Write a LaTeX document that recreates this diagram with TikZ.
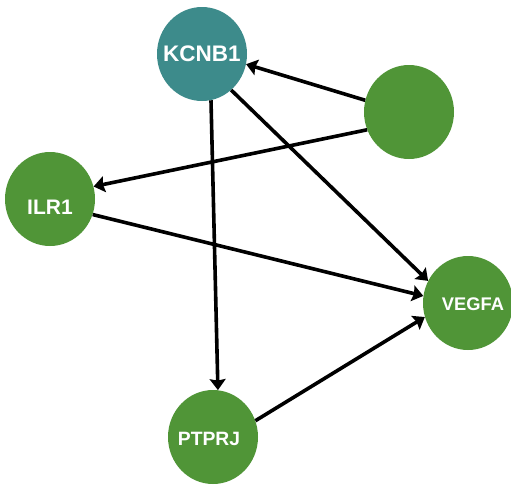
\documentclass[tikz,border=0pt]{standalone}
\usepackage{fontspec}
\setmainfont{Liberation Sans}
\usetikzlibrary{shapes.geometric,arrows.meta}
\definecolor{geneteal}{RGB}{61,139,139}
\definecolor{genegreen}{RGB}{80,149,55}
\tikzset{
  gene/.style={ellipse, minimum width=90pt, minimum height=94pt, inner sep=0pt, fill=genegreen, draw=none},
  hub/.style={gene, fill=geneteal},
  lbl/.style={text=white, font=\bfseries},
  edge/.style={line width=3.6pt, -{Stealth[length=11pt,width=16pt,inset=1.5pt]}},
}
\begin{document}
\begin{tikzpicture}[x=1pt,y=-1pt]
\useasboundingbox (0,0) rectangle (511,485);
% gene nodes
\node[hub]  (kcnb1) at (202,54)  {};
\node[gene] (src)   at (409,112) {};
\node[gene] (ilr1)  at (50,199)  {};
\node[gene] (vegfa) at (468,303) {};
\node[gene] (ptprj) at (213,437) {};
% labels
\node[lbl, font=\bfseries\fontsize{22.5}{24}\selectfont] (t1) at (kcnb1.center) {KCNB1};
\node[lbl, font=\bfseries\fontsize{21}{24}\selectfont]   (t2) at ([yshift=-8pt]ilr1.center) {ILR1};
\node[lbl, font=\bfseries\fontsize{18.3}{20}\selectfont] (t3) at ([xshift=5pt,yshift=-1pt]vegfa.center) {VEGFA};
\node[lbl, font=\bfseries\fontsize{19.3}{20}\selectfont] (t4) at ([xshift=-4pt,yshift=-2pt]ptprj.center) {PTPRJ};
% interactions
\draw[edge] (src.165.7)  -- (kcnb1.-13.7);
\draw[edge] (src.203.6)  -- (ilr1.16.5);
\draw[edge] (kcnb1.-51.9) -- (vegfa.151.9);
\draw[edge] (kcnb1.-79.6) -- (ptprj.84);
\draw[edge] (ilr1.-20.9) -- (vegfa.171);
\draw[edge] (ptprj.21.8) -- (vegfa.198.4);
\end{tikzpicture}
\end{document}
